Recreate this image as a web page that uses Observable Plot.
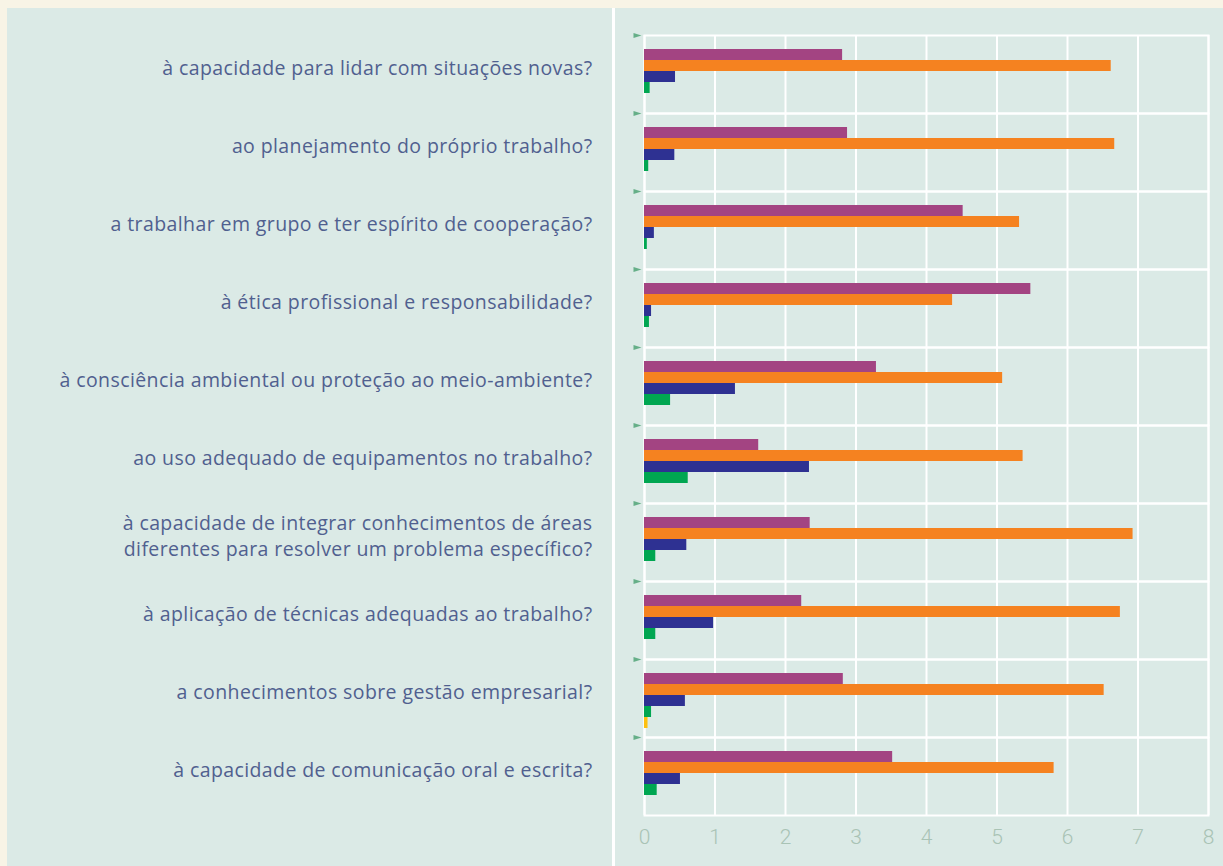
<!DOCTYPE html>
<html>
<head>
<meta charset="utf-8">
<script src="https://cdn.jsdelivr.net/npm/d3@7"></script>
<script src="https://cdn.jsdelivr.net/npm/@observablehq/plot@0.6"></script>
<style>
  html, body { margin: 0; padding: 0; background: #f8f4e6; }
  #panel { position: absolute; left: 7px; top: 8px; width: 1216px; height: 858px; background: #dbeae6; overflow: hidden; }
  #divider { position: absolute; left: 605px; top: 0; width: 3px; height: 858px; background: #ffffff; }
  #chart { position: absolute; left: 0; top: 0; }
  #chart g[aria-label="fy-axis tick label"] text { letter-spacing: 0.4px; }
</style>
</head>
<body>
<div id="panel"><div id="divider"></div><div id="chart"></div></div>
<script>
const categories = [
  "à capacidade para lidar com situações novas?",
  "ao planejamento do próprio trabalho?",
  "a trabalhar em grupo e ter espírito de cooperação?",
  "à ética profissional e responsabilidade?",
  "à consciência ambiental ou proteção ao meio-ambiente?",
  "ao uso adequado de equipamentos no trabalho?",
  "à capacidade de integrar conhecimentos de áreas\ndiferentes para resolver um problema específico?",
  "à aplicação de técnicas adequadas ao trabalho?",
  "a conhecimentos sobre gestão empresarial?",
  "à capacidade de comunicação oral e escrita?"
];
const seriesNames = ["Muito boa", "Boa", "Regular", "Fraca", "Sem resposta"];
const seriesColors = ["#a34482", "#f58220", "#2e3192", "#00a651", "#fdc010"];
const muitoBoa    = [2.81, 2.88, 4.52, 5.48, 3.29, 1.62, 2.35, 2.23, 2.82, 3.52];
const boa         = [6.62, 6.67, 5.32, 4.37, 5.08, 5.37, 6.93, 6.75, 6.52, 5.81];
const regular     = [0.44, 0.43, 0.14, 0.10, 1.29, 2.34, 0.60, 0.98, 0.58, 0.51];
const fraca       = [0.08, 0.06, 0.04, 0.07, 0.37, 0.62, 0.16, 0.16, 0.10, 0.18];
const semResposta = [0, 0, 0, 0, 0, 0, 0, 0, 0.05, 0];
const xTicks = [0, 1, 2, 3, 4, 5, 6, 7, 8];

const seriesValues = [muitoBoa, boa, regular, fraca, semResposta];
const rows = [];
categories.forEach((c, i) => {
  seriesNames.forEach((s, j) => {
    rows.push({category: c, series: s, value: seriesValues[j][i]});
  });
});

const triangle = {
  draw(ctx) {
    ctx.moveTo(-4, -2.5);
    ctx.lineTo(4, 0);
    ctx.lineTo(-4, 2.5);
    ctx.closePath();
  }
};

const chart = Plot.plot({
  width: 1216,
  height: 858,
  marginLeft: 637,
  marginRight: 15,
  marginTop: 27,
  marginBottom: 51,
  style: {background: "transparent", overflow: "visible"},
  x: {domain: [0, 8], ticks: xTicks},
  y: {domain: seriesNames, axis: null, paddingInner: 0, paddingOuter: 0.83, align: 0.62},
  fy: {domain: categories, padding: 0},
  color: {domain: seriesNames, range: seriesColors},
  marks: [
    Plot.gridX(xTicks, {stroke: "#ffffff", strokeOpacity: 1, strokeWidth: 2}),
    Plot.frame({stroke: "#ffffff", strokeWidth: 2}),
    Plot.barX(rows, {fy: "category", y: "series", x: "value", fill: "series"}),
    Plot.dot([0], {frameAnchor: "top-left", dx: -7, symbol: triangle, r: 3, fill: "#3f9b68", fillOpacity: 0.75, stroke: "none"}),
    Plot.axisFy({anchor: "left", tickSize: 0, tickPadding: 52, dy: -8, fontSize: 19.5, fontFamily: "Open Sans", fill: "#50608f", label: null, lineHeight: 1.33}),
    Plot.axisX({anchor: "bottom", ticks: xTicks, tickSize: 0, tickPadding: 14, fontSize: 21, fontFamily: "Roboto", fontWeight: 300, fill: "#a9c3b5", label: null, tickFormat: d => String(d)})
  ]
});
document.getElementById("chart").appendChild(chart);
</script>
</body>
</html>
